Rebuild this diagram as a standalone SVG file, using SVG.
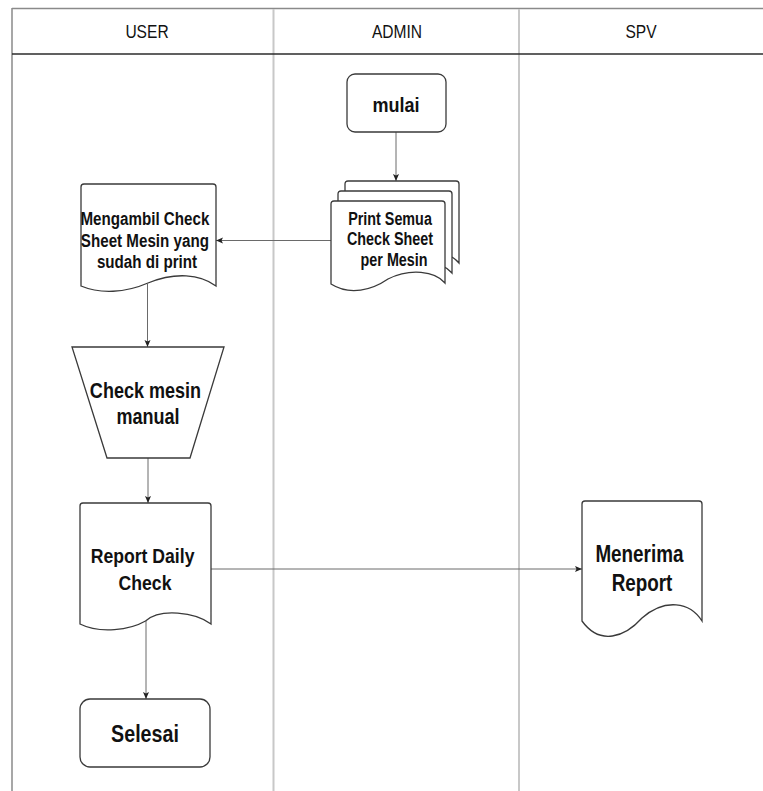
<svg xmlns="http://www.w3.org/2000/svg" width="763" height="791" viewBox="0 0 763 791">
  <style>
    .lane-edge { stroke: #8a8a8a; stroke-width: 1.5; fill: none; }
    .lane-div { stroke: #c8c8c8; stroke-width: 2; fill: none; }
    .head-line { stroke: #2b2b2b; stroke-width: 1.5; fill: none; }
    .head { font-family: "Liberation Sans", Arial, sans-serif; font-size: 19px; fill: #111; text-anchor: middle; }
    .shape { fill: #ffffff; stroke: #3a3a3a; stroke-width: 1.3; }
    .lbl { font-family: "Liberation Sans", Arial, sans-serif; font-weight: bold; fill: #111; text-anchor: middle; }
    .conn { stroke: #6a6a6a; stroke-width: 1; fill: none; marker-end: url(#arrow); }
  </style>
  <defs>
    <marker id="arrow" markerUnits="userSpaceOnUse" markerWidth="8" markerHeight="8" refX="7" refY="4" orient="auto">
      <path d="M0,1 L7,4 L0,7 L1.5,4 Z" fill="#222"/>
    </marker>
    <!-- document sheet with wavy bottom, local origin at top-left -->
    <path id="sheet" d="M0,3 Q0,0 3,0 H111 Q114,0 114,3 V82 C104,70 79,67 57,78 C41,89 19,95 0,83 Z"/>
  </defs>

  <rect x="0" y="0" width="763" height="791" fill="#ffffff"/>

  <!-- swimlane frame; labels use a condensed horizontal scale -->
  <g id="lanes">
    <line class="lane-edge" x1="12" y1="8.5" x2="763" y2="8.5"/>
    <line class="lane-edge" x1="12" y1="8" x2="12" y2="791"/>
    <line class="lane-div" x1="273.5" y1="9" x2="273.5" y2="791"/>
    <line class="lane-div" x1="519" y1="9" x2="519" y2="791"/>
    <line class="head-line" x1="12" y1="54" x2="763" y2="54"/>
    <text class="head" transform="translate(147 38) scale(0.82 1)">USER</text>
    <text class="head" transform="translate(397 38) scale(0.82 1)">ADMIN</text>
    <text class="head" transform="translate(641 38) scale(0.82 1)">SPV</text>
  </g>

  <!-- connectors -->
  <g id="connectors">
    <path class="conn" d="M396,132 V181"/>
    <path class="conn" d="M331,240.5 H216"/>
    <path class="conn" d="M147.5,284 V347"/>
    <path class="conn" d="M148,458 V503"/>
    <path class="conn" d="M146,621 V699"/>
    <path class="conn" d="M211,569 H582"/>
  </g>

  <g id="mulai">
    <rect class="shape" x="347" y="74" width="99" height="58" rx="8"/>
    <text class="lbl" transform="translate(396 111.5) scale(0.86 1)" font-size="21">mulai</text>
  </g>

  <g id="print-check-sheet">
    <use href="#sheet" class="shape" x="345" y="181"/>
    <use href="#sheet" class="shape" x="338" y="191"/>
    <use href="#sheet" class="shape" x="331" y="201"/>
    <text class="lbl" font-size="17.5" transform="translate(392 0) scale(0.82 1)">
      <tspan x="0" y="225">Print Semua</tspan>
      <tspan x="0" y="245.5">Check Sheet</tspan>
      <tspan x="2.5" y="266">per Mesin</tspan>
    </text>
  </g>

  <g id="ambil-check-sheet">
    <path class="shape" d="M81,187 Q81,184 84,184 H213 Q216,184 216,187 V286 C200,274 175,272 148,283 C125,293 100,294 81,286 Z"/>
    <text class="lbl" font-size="18.5" transform="translate(147 0) scale(0.82 1)">
      <tspan x="0" y="225.5">Mengambil Check</tspan>
      <tspan x="0" y="247">Sheet Mesin yang</tspan>
      <tspan x="0" y="268.5">sudah di print</tspan>
    </text>
  </g>

  <g id="check-manual">
    <polygon class="shape" points="72,347 224,347 190,458 107,458"/>
    <text class="lbl" font-size="22" transform="translate(148 0) scale(0.82 1)">
      <tspan x="0" y="398.5">Check mesin</tspan>
      <tspan x="0" y="424.5">manual</tspan>
    </text>
  </g>

  <g id="report-daily">
    <path class="shape" d="M80,506 Q80,503 83,503 H208 Q211,503 211,506 V624 C195,612 160,608 145.5,621 C130,630 100,634 80,624 Z"/>
    <text class="lbl" font-size="21" transform="translate(145 0) scale(0.84 1)">
      <tspan x="0" y="563.5">Report Daily</tspan>
      <tspan x="0" y="590">Check</tspan>
    </text>
  </g>

  <g id="menerima-report">
    <path class="shape" d="M582,504 Q582,501 585,501 H699 Q702,501 702,504 V621 C690,602 665,598 642,618 C625,637 600,646 582,621 Z"/>
    <text class="lbl" font-size="23" transform="translate(642 0) scale(0.82 1)">
      <tspan x="0" y="562">Menerima</tspan>
      <tspan x="0" y="591">Report</tspan>
    </text>
  </g>

  <g id="selesai">
    <rect class="shape" x="80" y="699" width="130" height="68" rx="10"/>
    <text class="lbl" transform="translate(145 741.5) scale(0.82 1)" font-size="24">Selesai</text>
  </g>
</svg>
